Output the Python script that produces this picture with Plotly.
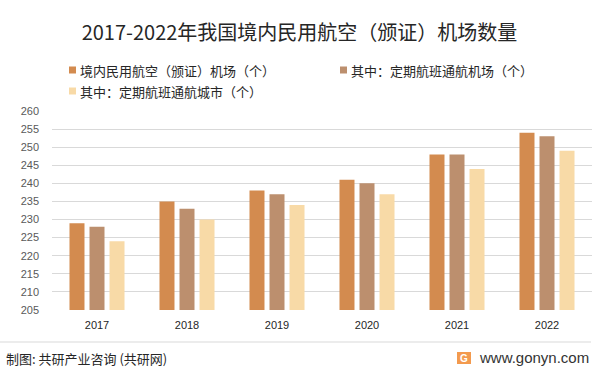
import plotly.graph_objects as go

years = ["2017", "2018", "2019", "2020", "2021", "2022"]
series_names = ["境内民用航空（颁证）机场（个）", "其中：定期航班通航机场（个）", "其中：定期航班通航城市（个）"]
airports = [229, 235, 238, 241, 248, 254]
scheduled_airports = [228, 233, 237, 240, 248, 253]
scheduled_cities = [224, 230, 234, 237, 244, 249]
colors = ["#D38B4F", "#BC8F6E", "#F8DAA7"]
y_ticks = list(range(205, 261, 5))

FONT = "Noto Sans CJK SC, Liberation Sans, sans-serif"

W, H = 599, 373
L, R, T, B = 52, 7, 111, 63
PW, PH = W - L - R, H - T - B

def px(x):
    return (x - L) / PW
def py(y):
    return (H - B - y) / PH

fig = go.Figure()
for name, vals, c in zip(series_names, [airports, scheduled_airports, scheduled_cities], colors):
    fig.add_trace(go.Bar(x=years, y=vals, name=name, marker=dict(color=c, line=dict(width=0)),
                         showlegend=False))

# manual legend
legend_items = [(69, 70), (340, 70), (69, 91)]
for (lx, ly), name, c in zip(legend_items, series_names, colors):
    fig.add_shape(type="rect", xref="paper", yref="paper",
                  x0=px(lx), x1=px(lx + 7), y0=py(ly + 3.5), y1=py(ly - 3.5),
                  fillcolor=c, line=dict(width=0))
    fig.add_annotation(xref="paper", yref="paper", x=px(lx + 9), y=py(ly), text=name,
                       showarrow=False, xanchor="left", yanchor="middle",
                       font=dict(size=13, color="#262626", family=FONT))

# footer
fig.add_shape(type="line", xref="paper", yref="paper", x0=px(0), x1=px(591), y0=py(342), y1=py(342),
              line=dict(color="#D9D9D9", width=1))
fig.add_annotation(xref="paper", yref="paper", x=px(4), y=py(358), text="制图: 共研产业咨询 (共研网)",
                   showarrow=False, xanchor="left", yanchor="middle",
                   font=dict(size=13, color="#262626", family=FONT))
fig.add_shape(type="rect", xref="paper", yref="paper", x0=px(457), x1=px(471), y0=py(364), y1=py(352),
              fillcolor="#F39A4E", line=dict(width=0))
fig.add_annotation(xref="paper", yref="paper", x=px(464), y=py(358), text="<b>G</b>",
                   showarrow=False, xanchor="center", yanchor="middle",
                   font=dict(size=10, color="white", family="Liberation Sans"))
fig.add_annotation(xref="paper", yref="paper", x=px(591), y=py(357), text="www.gonyn.com",
                   showarrow=False, xanchor="right", yanchor="middle",
                   font=dict(size=15, color="#333333", family="Liberation Sans, sans-serif"))

fig.update_layout(
    width=W, height=H,
    margin=dict(l=L, r=R, t=T, b=B, autoexpand=False),
    paper_bgcolor="white", plot_bgcolor="white",
    title=dict(text="2017-2022年我国境内民用航空（颁证）机场数量", x=0.5, xanchor="center",
               xref="container", yref="container",
               y=1 - 33 / H, yanchor="middle",
               font=dict(size=20, color="#262626", family=FONT)),
    barmode="group", bargap=0.333, bargroupgap=0.25,
    xaxis=dict(type="category", showgrid=False, showline=False, ticks="", automargin=False,
               tickfont=dict(size=11, color="#262626", family="Liberation Sans, sans-serif"),
               ticklabelstandoff=7),
    yaxis=dict(range=[205, 260], tickvals=y_ticks, showgrid=True, gridcolor="#D9D9D9", gridwidth=1,
               zeroline=False, showline=False, ticks="", automargin=False,
               tickfont=dict(size=11, color="#595959", family="Liberation Sans, sans-serif"),
               ticklabelstandoff=12),
)

fig.write_html("out.html", config={"displayModeBar": False},
               post_script="document.body.style.margin='0';document.body.style.overflow='hidden';")
